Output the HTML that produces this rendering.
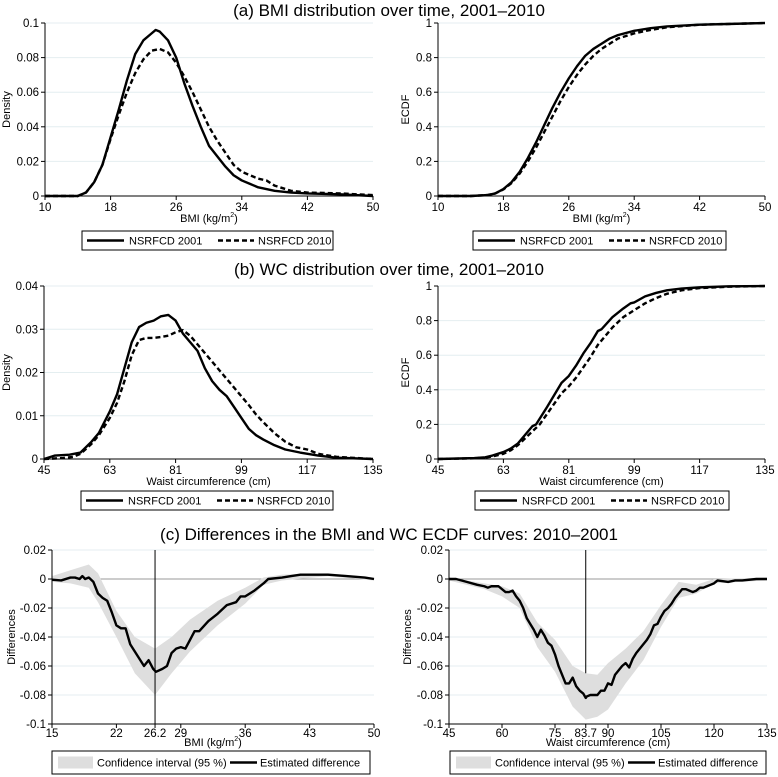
<!DOCTYPE html>
<html><head><meta charset="utf-8"><style>
html,body{margin:0;padding:0;background:#fff}
svg{display:block;font-family:"Liberation Sans",Arial,sans-serif}
</style></head><body>
<svg id="fig" width="778" height="777" viewBox="0 0 778 777">
<text x="389" y="16" font-size="17" text-anchor="middle">(a) BMI distribution over time, 2001–2010</text>
<text x="389" y="275" font-size="17" text-anchor="middle">(b) WC distribution over time, 2001–2010</text>
<text x="389" y="540" font-size="17" text-anchor="middle">(c) Differences in the BMI and WC ECDF curves: 2010–2001</text>
</svg>
<script>
// ---- data ----
const bmiDensX01 = [10,14,15,16,17,18,19,20,21,22,23,23.5,24,25,26,27,28,29,30,31,32,33,34,35,36,38,40,42,46,50];
const bmiDens01  = [0,0,0.002,0.008,0.018,0.034,0.05,0.067,0.082,0.09,0.094,0.096,0.095,0.09,0.08,0.065,0.052,0.04,0.029,0.023,0.017,0.012,0.009,0.007,0.005,0.003,0.002,0.0015,0.001,0];
const bmiDensX10 = [10,14,15,16,17,18,19,20,21,22,23,24,25,26,27,28,29,30,31,32,33,34,35,36,37,38,40,42,46,50];
const bmiDens10  = [0,0,0.002,0.008,0.018,0.033,0.047,0.06,0.071,0.079,0.084,0.085,0.083,0.077,0.069,0.06,0.05,0.04,0.032,0.025,0.018,0.014,0.012,0.01,0.009,0.006,0.003,0.002,0.0015,0.0005];
const bmiEcdfX = [10,14,16,17,18,19,20,21,22,23,24,25,26,27,28,29,30,31,32,34,36,38,42,46,50];
const bmiEcdf01 = [0,0,0.005,0.015,0.04,0.08,0.14,0.22,0.31,0.41,0.51,0.6,0.68,0.75,0.81,0.85,0.88,0.91,0.93,0.955,0.97,0.98,0.99,0.995,1];
const bmiEcdf10 = [0,0,0.005,0.015,0.038,0.075,0.13,0.2,0.28,0.37,0.46,0.55,0.63,0.7,0.76,0.81,0.85,0.88,0.91,0.94,0.96,0.975,0.99,0.995,1];
const wcDensX01 = [45,48,52,55,58,60,63,65,67,69,71,73,75,77,79,81,83,85,87,89,91,93,95,97,99,101,103,105,108,111,115,120,125,135];
const wcDens01  = [0,0.0008,0.001,0.0015,0.004,0.006,0.011,0.015,0.021,0.027,0.0305,0.0315,0.032,0.033,0.0333,0.032,0.029,0.027,0.025,0.021,0.018,0.016,0.0145,0.012,0.0095,0.007,0.0055,0.0045,0.0032,0.0022,0.0015,0.0008,0.0003,0];
const wcDensX10 = [45,50,53,55,58,60,63,65,67,69,71,73,75,77,79,81,83,85,87,89,91,93,95,97,99,101,103,105,108,111,114,117,120,125,135];
const wcDens10  = [0,0.0002,0.0005,0.0012,0.0035,0.0055,0.0095,0.013,0.018,0.024,0.0275,0.028,0.028,0.0282,0.0285,0.0293,0.0298,0.0285,0.0265,0.0245,0.0225,0.0205,0.0185,0.0165,0.0145,0.0125,0.0103,0.0085,0.006,0.004,0.0027,0.0022,0.0012,0.0005,0];
const wcEcdfX01 = [45,55,58,60,63,65,67,69,71,72,75,77,79,81,83,85,87,89,90,93,96,98,99,102,105,108,112,117,125,135];
const wcEcdf01  = [0,0.005,0.01,0.02,0.04,0.06,0.09,0.14,0.19,0.2,0.3,0.37,0.44,0.48,0.54,0.61,0.67,0.74,0.75,0.82,0.87,0.9,0.905,0.94,0.96,0.975,0.985,0.992,0.998,1];
const wcEcdfX10 = [45,55,58,60,63,65,67,69,71,73,75,77,79,81,83,85,87,89,91,93,96,99,102,105,108,112,117,125,135];
const wcEcdf10  = [0,0.004,0.008,0.015,0.03,0.05,0.08,0.12,0.16,0.2,0.26,0.32,0.38,0.42,0.47,0.53,0.59,0.66,0.71,0.76,0.82,0.86,0.9,0.93,0.955,0.975,0.988,0.996,1];
const bmiDiffX = [15,16,17,17.5,18,18.3,18.6,19,19.5,20,20.5,21,21.5,22,22.5,23,23.5,24,24.5,25,25.5,26,26.3,27,27.5,28,28.5,29,29.5,30,30.5,31,32,33,34,35,35.5,36,36.5,37,38,38.5,40,41,42,43,45,47,49,50];
const bmiDiff  = [-0.0005,-0.001,0.001,0.001,0,0.002,0,0.001,-0.002,-0.01,-0.013,-0.015,-0.023,-0.032,-0.034,-0.034,-0.045,-0.05,-0.055,-0.06,-0.056,-0.062,-0.064,-0.062,-0.06,-0.051,-0.048,-0.047,-0.048,-0.042,-0.036,-0.036,-0.029,-0.024,-0.018,-0.016,-0.012,-0.012,-0.01,-0.008,-0.003,0,0.001,0.002,0.003,0.003,0.003,0.002,0.001,0];
const bmiCiX  = [15,17,19,20,22,24,26.2,28,30,33,36,38,40,45,50];
const bmiCiHi = [0.002,0.006,0.01,0.004,-0.022,-0.04,-0.048,-0.04,-0.028,-0.015,-0.006,0.001,0.003,0.004,0.001];
const bmiCiLo = [-0.002,-0.003,-0.006,-0.016,-0.04,-0.065,-0.08,-0.065,-0.05,-0.032,-0.017,-0.004,-0.001,0.002,-0.001];
const wcDiffX = [45,47,50,53,55,56,57,59,61,62,63,64,65,66,67,68,69,70,71,72,73,74,75,76,77,78,79,80,81,82,83,83.7,84,85,86,87,88,89,90,91,92,93,94,95,96,97,98,99,100,101,102,103,104,105,106,107,108,109,110,111,112,113,114,115,116,117,118,119,120,121,124,126,128,132,135];
const wcDiff  = [0,0,-0.002,-0.004,-0.005,-0.006,-0.005,-0.005,-0.009,-0.009,-0.008,-0.012,-0.015,-0.02,-0.027,-0.031,-0.035,-0.04,-0.035,-0.039,-0.044,-0.046,-0.052,-0.06,-0.066,-0.072,-0.072,-0.068,-0.074,-0.077,-0.079,-0.082,-0.081,-0.08,-0.08,-0.08,-0.077,-0.077,-0.072,-0.073,-0.066,-0.063,-0.06,-0.058,-0.061,-0.055,-0.051,-0.048,-0.045,-0.042,-0.038,-0.032,-0.031,-0.026,-0.022,-0.02,-0.017,-0.013,-0.01,-0.007,-0.007,-0.008,-0.009,-0.008,-0.006,-0.006,-0.005,-0.004,-0.003,-0.001,-0.002,-0.001,-0.001,0,0];
const wcCiX  = [45,55,60,65,70,75,80,83.7,87,90,95,100,105,110,115,120,135];
const wcCiHi = [0.001,-0.003,-0.005,-0.01,-0.03,-0.042,-0.06,-0.065,-0.066,-0.058,-0.048,-0.036,-0.018,-0.002,-0.004,0,0.001];
const wcCiLo = [-0.001,-0.007,-0.012,-0.02,-0.047,-0.064,-0.088,-0.097,-0.095,-0.09,-0.072,-0.056,-0.033,-0.013,-0.01,-0.003,-0.001];
const bmiTicks = [10,18,26,34,42,50];
const wcTicks = [45,63,81,99,117,135];
const densBmiY = [0,0.02,0.04,0.06,0.08,0.1];
const densBmiLab = ["0","0.02","0.04","0.06","0.08","0.1"];
const densWcY = [0,0.01,0.02,0.03,0.04];
const densWcLab = ["0","0.01","0.02","0.03","0.04"];
const ecdfY = [0,0.2,0.4,0.6,0.8,1];
const ecdfLab = ["0","0.2","0.4","0.6","0.8","1"];
const diffY = [-0.1,-0.08,-0.06,-0.04,-0.02,0,0.02];
const diffLab = ["-0.1","-0.08","-0.06","-0.04","-0.02","0","0.02"];
const diffBmiTicks = [15,22,26.2,29,36,43,50];
const diffWcTicks = [45,60,75,83.7,90,105,120,135];

const NS='http://www.w3.org/2000/svg';
const svg=document.getElementById('fig');
function mk(tag,attrs,parent){const e=document.createElementNS(NS,tag);for(const k in attrs)e.setAttribute(k,attrs[k]);(parent||svg).appendChild(e);return e;}

function panel(o){
  const g=mk('g',{});
  
  
  const sx=v=>o.x0+(v-o.xmin)/(o.xmax-o.xmin)*(o.x1-o.x0);
  const sy=v=>o.y0-(v-o.ymin)/(o.ymax-o.ymin)*(o.y0-o.y1);
  o.yTicks.forEach((t,i)=>{
    if(t!==o.ymin){const gl=mk('line',{x1:o.x0,x2:o.x1,y1:sy(t),y2:sy(t),stroke:'#e4eef0','stroke-width':1},g);
    
    }
    mk('line',{x1:o.x0-4,x2:o.x0,y1:sy(t),y2:sy(t),stroke:'#000','stroke-width':1},g);
    const tx=mk('text',{x:o.x0-6,y:sy(t)+4,'font-size':11.5,'text-anchor':'end'},g);tx.textContent=o.yLab[i];
    
    
  });
  if(o.zero){mk('line',{x1:o.x0,x2:o.x1,y1:sy(0),y2:sy(0),stroke:'#999','stroke-width':1},g);}
  if(o.ci){
    let d='';o.ci.x.forEach((v,i)=>{d+=(i?'L':'M')+sx(v)+','+sy(o.ci.hi[i]);});
    for(let i=o.ci.x.length-1;i>=0;i--)d+='L'+sx(o.ci.x[i])+','+sy(o.ci.lo[i]);
    const p=mk('path',{d:d+'Z',fill:'#dedede',stroke:'none'},g);
    
    
  }
  if(o.vline!==undefined){
    const vl=mk('line',{x1:sx(o.vline),x2:sx(o.vline),y1:sy(0.02),y2:sy(o.vlineEnd),stroke:'#000','stroke-width':1},g);
    
    
  }
  o.series.forEach(s=>{
    let d='';s.x.forEach((v,i)=>{d+=(i?'L':'M')+sx(v).toFixed(2)+','+sy(s.y[i]).toFixed(2);});
    const p=mk('path',{d:d,fill:'none',stroke:'#000','stroke-width':2.4,'stroke-linejoin':'round','stroke-dasharray':s.dash?'5,3':'none'},g);
    
    
  });
  mk('line',{x1:o.x0,x2:o.x0,y1:o.y1,y2:o.y0,stroke:'#000','stroke-width':1},g);
  mk('line',{x1:o.x0,x2:o.x1,y1:o.y0,y2:o.y0,stroke:'#000','stroke-width':1},g);
  o.xTicks.forEach(t=>{
    mk('line',{x1:sx(t),x2:sx(t),y1:o.y0,y2:o.y0+4,stroke:'#000','stroke-width':1},g);
    const tx=mk('text',{x:sx(t),y:o.y0+o.tlOff,'font-size':11.5,'text-anchor':'middle'},g);tx.textContent=String(t);
    
    
  });
  const xt=mk('text',{x:(o.x0+o.x1)/2,y:o.y0+o.xtOff,'font-size':11,'text-anchor':'middle'},g);
  xt.innerHTML=o.xTitle;
  
  
  const yt=mk('text',{x:0,y:0,'font-size':11,'text-anchor':'middle',transform:`translate(${o.ytX},${(o.y0+o.y1)/2}) rotate(-90)`},g);
  yt.textContent=o.yTitle;
  
  
  // legend
  const L=o.legend;
  const lg=mk('g',{},g);
  
  
  mk('rect',{x:L.x,y:L.y,width:L.w,height:L.h,fill:'#fff',stroke:'#000','stroke-width':1},lg);
  const cy=L.y+L.h/2;
  if(L.ci){
    mk('rect',{x:L.x+6,y:cy-6,width:35,height:12,fill:'#dedede'},lg);
    const t1=mk('text',{x:L.x+45,y:cy+4,'font-size':11},lg);t1.textContent='Confidence interval (95 %)';
    mk('line',{x1:L.x+178,x2:L.x+205,y1:cy,y2:cy,stroke:'#000','stroke-width':2.4},lg);
    const t2=mk('text',{x:L.x+208,y:cy+4,'font-size':11},lg);t2.textContent='Estimated difference';
  } else {
    mk('line',{x1:L.x+5,x2:L.x+42,y1:cy,y2:cy,stroke:'#000','stroke-width':2.4},lg);
    const t1=mk('text',{x:L.x+47,y:cy+4,'font-size':11},lg);t1.textContent='NSRFCD 2001';
    mk('line',{x1:L.x+136,x2:L.x+172,y1:cy,y2:cy,stroke:'#000','stroke-width':2.4,'stroke-dasharray':'5,3'},lg);
    const t2=mk('text',{x:L.x+176,y:cy+4,'font-size':11},lg);t2.textContent='NSRFCD 2010';
  }
}
const bmiT='BMI (kg/m<tspan font-size="7" dy="-5">2</tspan><tspan dy="5">)</tspan>';
panel({name:'bmi-density-panel',x0:45,x1:373,y0:196,y1:23,xmin:10,xmax:50,ymin:0,ymax:0.1,xTicks:bmiTicks,yTicks:densBmiY,yLab:densBmiLab,xTitle:bmiT,yTitle:'Density',ytX:10,tlOff:15,xtOff:26,
  series:[{name:'bmi-density-2001',x:bmiDensX01,y:bmiDens01},{name:'bmi-density-2010',x:bmiDensX10,y:bmiDens10,dash:1}],legend:{x:82,y:231,w:251,h:19}});
panel({name:'bmi-ecdf-panel',x0:438,x1:765,y0:196,y1:23,xmin:10,xmax:50,ymin:0,ymax:1,xTicks:bmiTicks,yTicks:ecdfY,yLab:ecdfLab,xTitle:bmiT,yTitle:'ECDF',ytX:409,tlOff:15,xtOff:26,
  series:[{name:'bmi-ecdf-2001',x:bmiEcdfX,y:bmiEcdf01},{name:'bmi-ecdf-2010',x:bmiEcdfX,y:bmiEcdf10,dash:1}],legend:{x:473,y:231,w:253,h:19}});
panel({name:'wc-density-panel',x0:44,x1:373,y0:459,y1:286,xmin:45,xmax:135,ymin:0,ymax:0.04,xTicks:wcTicks,yTicks:densWcY,yLab:densWcLab,xTitle:'Waist circumference (cm)',yTitle:'Density',ytX:10,tlOff:15,xtOff:26,
  series:[{name:'wc-density-2001',x:wcDensX01,y:wcDens01},{name:'wc-density-2010',x:wcDensX10,y:wcDens10,dash:1}],legend:{x:81,y:491,w:252,h:19}});
panel({name:'wc-ecdf-panel',x0:438,x1:765,y0:459,y1:286,xmin:45,xmax:135,ymin:0,ymax:1,xTicks:wcTicks,yTicks:ecdfY,yLab:ecdfLab,xTitle:'Waist circumference (cm)',yTitle:'ECDF',ytX:409,tlOff:15,xtOff:26,
  series:[{name:'wc-ecdf-2001',x:wcEcdfX01,y:wcEcdf01},{name:'wc-ecdf-2010',x:wcEcdfX10,y:wcEcdf10,dash:1}],legend:{x:475,y:491,w:254,h:19}});
panel({name:'bmi-diff-panel',x0:52,x1:374,y0:724,y1:550,xmin:15,xmax:50,ymin:-0.1,ymax:0.02,xTicks:diffBmiTicks,yTicks:diffY,yLab:diffLab,xTitle:bmiT,yTitle:'Differences',ytX:15,tlOff:13,xtOff:22,zero:1,
  ci:{x:bmiCiX,hi:bmiCiHi,lo:bmiCiLo},vline:26.2,vlineEnd:-0.1,
  series:[{name:'bmi-estimated-difference',x:bmiDiffX,y:bmiDiff}],legend:{x:52,y:751,w:318,h:23,ci:1}});
panel({name:'wc-diff-panel',x0:449,x1:767,y0:724,y1:550,xmin:45,xmax:135,ymin:-0.1,ymax:0.02,xTicks:diffWcTicks,yTicks:diffY,yLab:diffLab,xTitle:'Waist circumference (cm)',yTitle:'Differences',ytX:411,tlOff:13,xtOff:22,zero:1,
  ci:{x:wcCiX,hi:wcCiHi,lo:wcCiLo},vline:83.7,vlineEnd:-0.065,
  series:[{name:'wc-estimated-difference',x:wcDiffX,y:wcDiff}],legend:{x:450,y:751,w:316,h:23,ci:1}});
</script>
</body></html>
